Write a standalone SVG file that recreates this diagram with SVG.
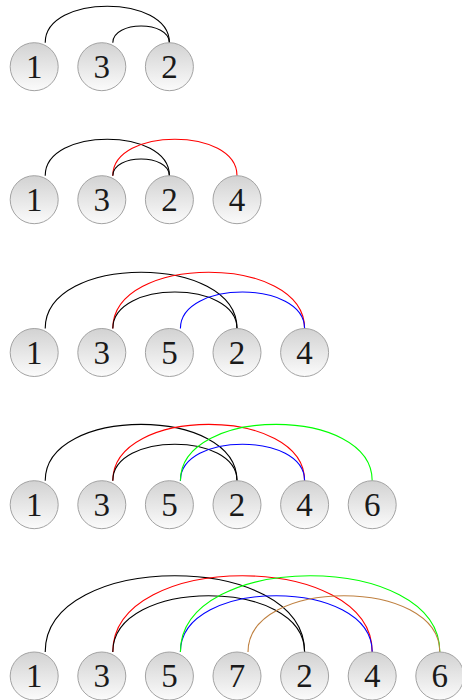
<svg xmlns="http://www.w3.org/2000/svg" width="462" height="700" viewBox="0 0 462 700">
<defs>
<linearGradient id="g" x1="0" y1="0" x2="0" y2="1">
<stop offset="0" stop-color="#d2d2d2"/>
<stop offset="1" stop-color="#fbfbfb"/>
</linearGradient>
</defs>
<style>
.n circle{fill:url(#g);stroke:#a3a3a3;stroke-width:1}
.n text{font-family:"Liberation Serif","DejaVu Serif",serif;font-size:33px;text-anchor:middle;fill:#1a1a1a}
.e path{fill:none;stroke-width:1.1}
.k{stroke:#000}
.r{stroke:#ff0000}
.b{stroke:#0000ff}
.gr{stroke:#00ff00}
.br{stroke:#bf8040}
</style>
<g id="connectors" class="e">
<path class="k" d="M45.2 42.7C45.2 -5.9 169.4 -5.9 169.4 42.7"/>
<path class="k" d="M112.8 42.7C112.8 20.5 169.4 20.5 169.4 42.7"/>

<path class="k" d="M45.2 175.7C45.2 127.1 169.4 127.1 169.4 175.7"/>
<path class="r" d="M112.8 175.7C112.8 127.1 237 127.1 237 175.7"/>
<path class="k" d="M112.8 175.7C112.8 153.5 169.4 153.5 169.4 175.7"/>

<path class="k" d="M45.2 328.5C45.2 253.4 237 253.4 237 328.5"/>
<path class="r" d="M112.8 328.5C112.8 253.4 304.6 253.4 304.6 328.5"/>
<path class="k" d="M112.8 328.5C112.8 279.9 237 279.9 237 328.5"/>
<path class="b" d="M180.4 328.5C180.4 279.9 304.6 279.9 304.6 328.5"/>

<path class="k" d="M45.2 480.7C45.2 405.6 237 405.6 237 480.7"/>
<path class="r" d="M112.8 480.7C112.8 405.6 304.6 405.6 304.6 480.7"/>
<path class="k" d="M112.8 480.7C112.8 432.1 237 432.1 237 480.7"/>
<path class="b" d="M180.4 480.7C180.4 432.1 304.6 432.1 304.6 480.7"/>
<path class="gr" d="M180.4 480.7C180.4 405.6 372.2 405.6 372.2 480.7"/>

<path class="k" d="M45.2 652C45.2 550.4 304.6 550.4 304.6 652"/>
<path class="r" d="M112.8 652C112.8 550.4 372.2 550.4 372.2 652"/>
<path class="k" d="M112.8 652C112.8 576.9 304.6 576.9 304.6 652"/>
<path class="b" d="M180.4 652C180.4 576.9 372.2 576.9 372.2 652"/>
<path class="gr" d="M180.4 652C180.4 550.4 439.8 550.4 439.8 652"/>
<path class="br" d="M248 652C248 576.9 439.8 576.9 439.8 652"/>
</g>

<g id="r1n1" class="n"><circle cx="34.2" cy="66.7" r="24"/><text x="34.2" y="77.8">1</text></g>
<g id="r1n3" class="n"><circle cx="101.8" cy="66.7" r="24"/><text x="101.8" y="77.8">3</text></g>
<g id="r1n2" class="n"><circle cx="169.4" cy="66.7" r="24"/><text x="169.4" y="77.8">2</text></g>

<g id="r2n1" class="n"><circle cx="34.2" cy="199.7" r="24"/><text x="34.2" y="210.8">1</text></g>
<g id="r2n3" class="n"><circle cx="101.8" cy="199.7" r="24"/><text x="101.8" y="210.8">3</text></g>
<g id="r2n2" class="n"><circle cx="169.4" cy="199.7" r="24"/><text x="169.4" y="210.8">2</text></g>
<g id="r2n4" class="n"><circle cx="237" cy="199.7" r="24"/><text x="237" y="210.8">4</text></g>

<g id="r3n1" class="n"><circle cx="34.2" cy="352.5" r="24"/><text x="34.2" y="363.6">1</text></g>
<g id="r3n3" class="n"><circle cx="101.8" cy="352.5" r="24"/><text x="101.8" y="363.6">3</text></g>
<g id="r3n5" class="n"><circle cx="169.4" cy="352.5" r="24"/><text x="169.4" y="363.6">5</text></g>
<g id="r3n2" class="n"><circle cx="237" cy="352.5" r="24"/><text x="237" y="363.6">2</text></g>
<g id="r3n4" class="n"><circle cx="304.6" cy="352.5" r="24"/><text x="304.6" y="363.6">4</text></g>

<g id="r4n1" class="n"><circle cx="34.2" cy="504.7" r="24"/><text x="34.2" y="515.8">1</text></g>
<g id="r4n3" class="n"><circle cx="101.8" cy="504.7" r="24"/><text x="101.8" y="515.8">3</text></g>
<g id="r4n5" class="n"><circle cx="169.4" cy="504.7" r="24"/><text x="169.4" y="515.8">5</text></g>
<g id="r4n2" class="n"><circle cx="237" cy="504.7" r="24"/><text x="237" y="515.8">2</text></g>
<g id="r4n4" class="n"><circle cx="304.6" cy="504.7" r="24"/><text x="304.6" y="515.8">4</text></g>
<g id="r4n6" class="n"><circle cx="372.2" cy="504.7" r="24"/><text x="372.2" y="515.8">6</text></g>

<g id="r5n1" class="n"><circle cx="34.2" cy="676" r="24"/><text x="34.2" y="687.1">1</text></g>
<g id="r5n3" class="n"><circle cx="101.8" cy="676" r="24"/><text x="101.8" y="687.1">3</text></g>
<g id="r5n5" class="n"><circle cx="169.4" cy="676" r="24"/><text x="169.4" y="687.1">5</text></g>
<g id="r5n7" class="n"><circle cx="237" cy="676" r="24"/><text x="237" y="687.1">7</text></g>
<g id="r5n2" class="n"><circle cx="304.6" cy="676" r="24"/><text x="304.6" y="687.1">2</text></g>
<g id="r5n4" class="n"><circle cx="372.2" cy="676" r="24"/><text x="372.2" y="687.1">4</text></g>
<g id="r5n6" class="n"><circle cx="439.8" cy="676" r="24"/><text x="439.8" y="687.1">6</text></g>
</svg>
